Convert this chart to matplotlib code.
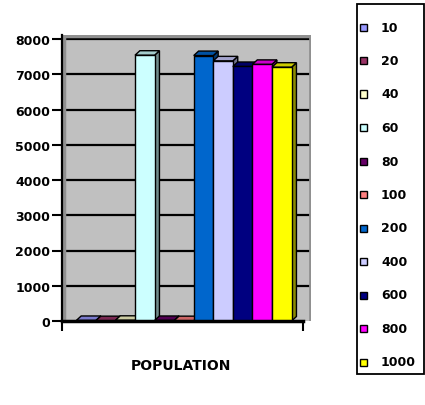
import matplotlib
matplotlib.use('Agg')
import matplotlib.pyplot as plt
from matplotlib.patches import Polygon, Rectangle
import numpy as np

series = ['10', '20', '40', '60', '80', '100', '200', '400', '600', '800', '1000']
population = [15, 10, 20, 7540, 15, 10, 7530, 7380, 7220, 7280, 7200]
colors = ['#9999FF', '#993366', '#FFFFCC', '#CCFFFF', '#660066', '#FF8080',
          '#0066CC', '#CCCCFF', '#000080', '#FF00FF', '#FFFF00']
yticks = [0, 1000, 2000, 3000, 4000, 5000, 6000, 7000, 8000]

W, H = 425, 406
fig = plt.figure(figsize=(W / 100, H / 100), dpi=100)
# plot area in pixels: left 62, right 311, top 36, bottom 322
ax = fig.add_axes([62 / W, 1 - 322 / H, (311 - 62) / W, (322 - 36) / H])
ax.set_facecolor('#C0C0C0')

ymax = 8000 * (322 - 36) / (322 - 40)
x0 = -1.23
x1 = x0 + (311 - 62) / 19.57
ax.set_xlim(x0, x1)
ax.set_ylim(0, ymax)

# depth of the 3d columns in data units
dx = 0.25
dy = 4.5 * ymax / (322 - 36)


def shade(c, f):
    r, g, b = matplotlib.colors.to_rgb(c)
    return (r * f, g * f, b * f)


x = np.arange(len(series))
for i, (v, c) in enumerate(zip(population, colors)):
    rect = ax.bar(x[i], v, width=1.0, color=c, edgecolor='black',
                  linewidth=1.0, zorder=10 + 3 * i)[0]
    left = rect.get_x()
    right = left + rect.get_width()
    h = rect.get_height()
    side = Polygon([(right, 0), (right + dx, dy), (right + dx, h + dy), (right, h)],
                   closed=True, facecolor=shade(c, 0.55), edgecolor='black',
                   linewidth=1.0, zorder=9 + 3 * i)
    top = Polygon([(left, h), (left + dx, h + dy), (right + dx, h + dy), (right, h)],
                  closed=True, facecolor=shade(c, 0.8), edgecolor='black',
                  linewidth=1.0, zorder=9 + 3 * i)
    ax.add_patch(side)
    ax.add_patch(top)

# gridlines on the back wall
for t in yticks[1:]:
    ax.axhline(t, color='black', linewidth=1.6, zorder=2)

# darker wall edges
ax.plot([x0 + 0.1, x0 + 0.1], [0, ymax], color='#909090', lw=2.5, zorder=3)
ax.plot([x0, x1], [ymax * 0.997, ymax * 0.997], color='#909090', lw=2.5, zorder=3)
ax.plot([x1 - 0.06, x1 - 0.06], [0, ymax], color='#909090', lw=2, zorder=3)

ax.set_yticks(yticks)
ax.set_yticklabels([str(t) for t in yticks], fontsize=9, fontweight='bold')
ax.tick_params(axis='y', length=7, width=1.5, pad=1.5, direction='out')

x_end = x0 + (303 - 62) / 19.57
ax.set_xticks([x0, x_end])
ax.set_xticklabels(['', ''])
ax.tick_params(axis='x', length=7, width=1.5, direction='out')

for s in ['top', 'right']:
    ax.spines[s].set_visible(False)
ax.spines['left'].set_linewidth(1.6)
ax.spines['left'].set_zorder(50)
ax.spines['bottom'].set_linewidth(2.5)
ax.spines['bottom'].set_bounds(x0, x_end)
ax.spines['bottom'].set_zorder(50)

fig.text(181 / W, 1 - 366 / H, 'POPULATION', ha='center', va='center',
         fontsize=10, fontweight='bold')

# legend box drawn by hand in figure pixels
fig.add_artist(Rectangle((357 / W, 1 - 375 / H), (424 - 357) / W, (375 - 5) / H,
                         transform=fig.transFigure, facecolor='white',
                         edgecolor='black', linewidth=1.3, zorder=1))
row_y = 28
step = (363 - 28) / (len(series) - 1)
for name, c in zip(series, colors):
    yf = 1 - row_y / H
    fig.add_artist(Rectangle((360 / W, yf - 3.5 / H), 7 / W, 7 / H,
                             transform=fig.transFigure, facecolor=c,
                             edgecolor='black', linewidth=1.0, zorder=5))
    fig.text(381 / W, yf, name, ha='left', va='center',
             fontsize=9, fontweight='bold', zorder=5)
    row_y += step

fig.savefig('out.png', dpi=100)
